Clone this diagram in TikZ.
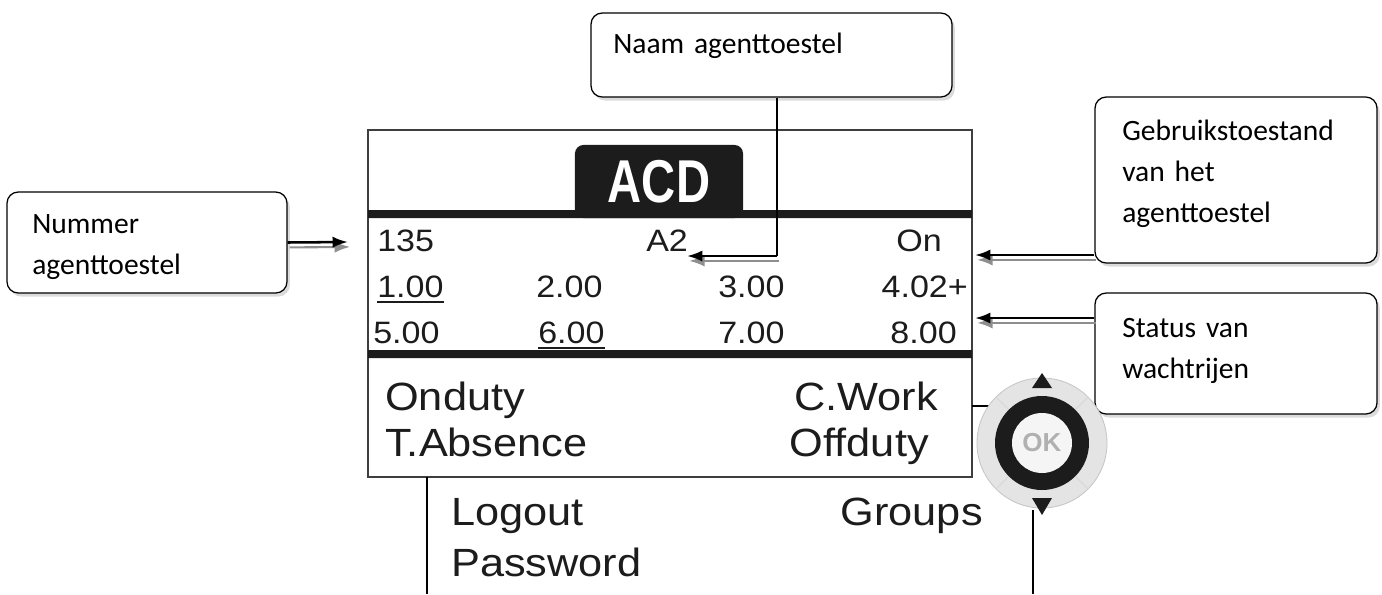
\documentclass[tikz,border=0pt]{standalone}
\usepackage{fontspec}
\setmainfont{Carlito}
\newfontfamily\lcdfont[FakeStretch=1.1]{Liberation Sans}
\newfontfamily\tabfont[FakeStretch=0.78]{Liberation Sans Bold}
\newfontfamily\keyfont{Liberation Sans Bold}
\usetikzlibrary{calc,arrows.meta,positioning,shadows,fit}
\definecolor{inkx}{HTML}{1C1C1C}
\definecolor{shadex}{HTML}{8E8E8E}
\definecolor{ringx}{HTML}{E4E4E4}
\definecolor{okx}{HTML}{B0B0B0}
\tikzset{
  callout/.style={draw,line width=0.9pt,rounded corners=8pt,fill=white,inner sep=0pt,
    drop shadow={shadow xshift=2pt,shadow yshift=-2.5pt,fill=gray!55}},
  note/.style={font=\fontsize{21}{29.5}\selectfont,anchor=base west,inner sep=0pt,
    align=left,text width=7cm},
  cal/.style={-{Latex[length=11pt,width=8pt]},line width=1.8pt,
    preaction={draw=shadex,line width=1.5pt,-{Latex[length=11pt,width=8pt]},
      transform canvas={shift={(1.5pt,-3.5pt)}}}},
  lead/.style={line width=0.9pt},
  lcd/.style={font=\lcdfont\fontsize{22}{26}\selectfont,inner sep=0pt,text=inkx},
  menu/.style={font=\lcdfont\fontsize{28}{32}\selectfont,inner sep=0pt,text=inkx},
  ul/.style={line width=2pt,inkx},
  tab/.style={fill=inkx,rounded corners=6pt,minimum width=4.2cm,minimum height=1.825cm,
    text=white,font=\tabfont\fontsize{43}{43}\selectfont,inner sep=0pt}
}
\begin{document}
\begin{tikzpicture}[x=0.025cm,y=-0.025cm]
\useasboundingbox[fill=white] (0,0) rectangle (1382,594);
\node[callout,fit={(7,192) (287,293)}] (nummer) {};
\node[callout,fit={(591,13) (952,97)}] (naam) {};
\node[callout,fit={(1095,97) (1377,263)}] (gebruik) {};
\node[callout,fit={(1095,293) (1377,414)}] (status) {};
\node[note] (tnummer) at (32,233) {Nummer\\agenttoestel};
\node[note] (tnaam) at (613,53) {Naam agenttoestel};
\node[note] (tgebruik) at (1122,140) {Gebruikstoestand\\van het\\agenttoestel};
\node[note] (tstatus) at (1122,337) {Status van\\wachtrijen};
\draw[line width=1.1pt,inkx!85] (368,130) rectangle (972,477);
\fill[inkx] (368,210) rectangle (972,218) (368,350) rectangle (972,358);
\node[tab] (acd) at (659,181.5) {ACD};
\node[lcd,anchor=base west] (n135) at (377,251) {135};
\node[lcd,anchor=base west] (a2) at (646,251) {A2};
\node[lcd,anchor=base east] (on) at (942,251) {On};
\node[lcd,anchor=base west] (q1) at (377,297) {1.00};
\node[lcd,anchor=base west] (q2) at (536,297) {2.00};
\node[lcd,anchor=base west] (q3) at (718,297) {3.00};
\node[lcd,anchor=base east] (q4) at (968,297) {4.02+};
\node[lcd,anchor=base west] (q5) at (373,343) {5.00};
\node[lcd,anchor=base west] (q6) at (538,343) {6.00};
\node[lcd,anchor=base west] (q7) at (718,343) {7.00};
\node[lcd,anchor=base east] (q8) at (957,343) {8.00};
\draw[ul] ($(q1.base west)+(0,5)$) -- ($(q1.base east)+(0,5)$);
\draw[ul] ($(q6.base west)+(0,5)$) -- ($(q6.base east)+(0,5)$);
\node[menu,anchor=base west] (onduty) at (385,410) {Onduty};
\node[menu,anchor=base east] (cwork) at (938,410) {C.Work};
\node[menu,anchor=base west] (tabsence) at (385,456) {T.Absence};
\node[menu,anchor=base east] (offduty) at (929,456) {Offduty};
\node[menu,anchor=base west] (logout) at (451,525) {Logout};
\node[menu,anchor=base east] (groups) at (983,525) {Groups};
\node[menu,anchor=base west] (passwd) at (451,576) {Password};
\draw[lead] (427,477) -- (427,594);
\draw[lead] (1033,510) -- (1033,594);
\draw[lead] (972,406) -- (990,406);
\coordinate (okc) at (1042,443);
\fill[ringx,draw=gray!45,line width=0.6pt] (okc) circle (65);
\foreach \a in {45,135,225,315}
  \draw[white!70!gray,line width=0.8pt] ($(okc)+(\a:47)$) -- ($(okc)+(\a:65)$);
\fill[inkx] (okc) circle (47);
\fill[gray!8] (okc) circle (30);
\node[font=\keyfont\fontsize{18.5}{18.5}\selectfont,text=okx,inner sep=0pt] (ok) at (okc) {OK};
\fill[inkx] (1032,388) -- (1042,373) -- (1052,388) -- cycle;
\fill[inkx] (1032,498) -- (1042,515) -- (1052,498) -- cycle;
\coordinate (tipnum) at (348,242);
\coordinate (tipname) at (687,256);
\coordinate (bend) at (777,256);
\coordinate (tipuse) at (975,255);
\coordinate (tipque) at (975,318);
\draw[cal] (nummer.east) -- (tipnum);
\draw[lead] (naam.south -| bend) -- (bend);
\draw[cal] (bend) -- (tipname);
\draw[cal] (gebruik.west |- tipuse) -- (tipuse);
\draw[cal] (status.west |- tipque) -- (tipque);
\end{tikzpicture}
\end{document}
